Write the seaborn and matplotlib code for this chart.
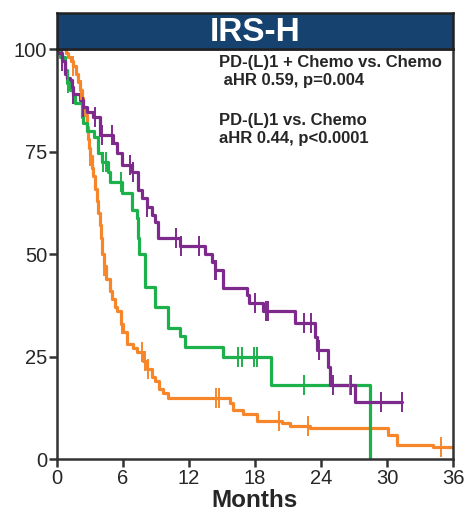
import numpy as np
import pandas as pd
import seaborn as sns
import matplotlib
matplotlib.use("Agg")
import matplotlib.pyplot as plt

# Kaplan-Meier step points (months, % surviving)
purple_t = [0, 0.1, 0.45, 0.7, 0.9, 1.2, 1.4, 1.5, 2.1, 2.4, 2.7, 3.3, 3.9, 5.1, 5.45, 5.9, 6.8,
            7.4, 7.7, 8.2, 8.6, 8.9, 9.2, 11.2, 13.5, 14.1, 14.4, 15.1, 17.3, 17.5, 18.7, 21.6,
            23.5, 23.6, 24.6, 24.8, 27.1, 31.4]
purple_s = [100, 99, 97, 94, 93, 92.4, 90.7, 89, 87.5, 86, 84.6, 83.4, 79, 77, 74.6, 71.7, 70,
            65.6, 63.7, 61.5, 59.5, 57.8, 54, 52, 50, 48, 46, 41.7, 40, 38, 36, 33.2,
            29.8, 26.6, 22.4, 18, 13.9, 13.9]
purple_cens = [0.5, 1.5, 2.4, 3.5, 4.1, 5.0, 6.6, 6.9, 8.2, 10.8, 11.3, 12.9, 14.4, 14.5,
               18.0, 19.0, 19.2, 22.5, 23.1, 23.8, 25.1, 26.7, 29.5, 31.4]

green_t = [0, 0.3, 0.7, 0.9, 1.2, 1.45, 1.6, 2.3, 2.4, 2.7, 3.4, 3.7, 4.1, 4.6, 4.8, 5.9, 6.8,
           7.3, 7.4, 7.5, 8.0, 8.9, 10.1, 11.2, 11.6, 15.1, 19.5, 28.5, 28.5]
green_s = [100, 98, 95, 91.7, 90, 88.8, 86.8, 83.4, 82, 80, 78.5, 74.6, 72.5, 70, 67.6, 65,
           60.7, 58.8, 54, 50, 42, 37, 32, 30, 27.3, 25, 18, 0, 0]
green_cens = [1.0, 4.2, 4.5, 5.8, 7.45, 16.5, 16.8, 17.9, 18.2, 22.5, 26.6]

orange_t = [0, 0.8, 1.0, 1.3, 1.5, 1.7, 1.9, 2.1, 2.3, 2.4, 2.5, 2.7, 2.8, 2.9, 3.0, 3.2, 3.3,
            3.5, 3.6, 3.7, 3.9, 4.0, 4.1, 4.3, 4.5, 4.8, 5.0, 5.3, 5.5, 5.8, 6.0, 6.4, 6.9,
            7.3, 7.8, 8.2, 8.6, 8.9, 9.3, 9.6, 10.1, 15.7, 16.0, 16.9, 18.2, 20.5, 21.2, 23.0,
            30.1, 30.9, 34.2, 36]
orange_s = [100, 99, 98, 97, 96, 94, 92, 90, 88, 86, 84, 81, 78, 76, 74, 71, 69,
            66, 63, 60, 57, 54, 50, 47, 44, 41, 39, 37, 36, 33, 31, 28, 27,
            26, 24, 22, 20, 19, 17, 16, 15, 13.7, 12, 11, 9.3, 8.8, 8, 7.5,
            5.8, 3.4, 3, 3]
orange_cens = [1.5, 2.2, 3.0, 4.3, 5.9, 7.7, 8.0, 8.3, 14.5, 14.7, 20.2, 22.8, 34.9]

arms = ["PD-(L)1 + Chemo", "PD-(L)1", "Chemo"]
colors = {"PD-(L)1 + Chemo": "#7d2a8c", "PD-(L)1": "#1db14b", "Chemo": "#f7862b"}

curves = pd.concat([
    pd.DataFrame({"t": purple_t, "s": purple_s, "arm": arms[0]}),
    pd.DataFrame({"t": green_t, "s": green_s, "arm": arms[1]}),
    pd.DataFrame({"t": orange_t, "s": orange_s, "arm": arms[2]}),
])

# censor ticks sit on the curve at their time
def on_curve(cens, t, s):
    idx = np.searchsorted(t, cens, side="right") - 1
    return [s[i] for i in idx]

marks = pd.concat([
    pd.DataFrame({"t": purple_cens, "s": on_curve(purple_cens, purple_t, purple_s), "arm": arms[0]}),
    pd.DataFrame({"t": green_cens, "s": on_curve(green_cens, green_t, green_s), "arm": arms[1]}),
    pd.DataFrame({"t": orange_cens, "s": on_curve(orange_cens, orange_t, orange_s), "arm": arms[2]}),
])

sns.set_style("white")
plt.rcParams['font.family'] = ['Liberation Sans', 'DejaVu Sans']

fig = plt.figure(figsize=(4.67, 5.12), dpi=100)
ax = fig.add_axes([0.122, 0.1035, 0.848, 0.8005])

# draw orange first so purple/green sit on top
for arm in ["Chemo", "PD-(L)1", "PD-(L)1 + Chemo"]:
    sns.lineplot(data=curves[curves.arm == arm], x="t", y="s", color=colors[arm],
                 drawstyle="steps-post", estimator=None, sort=False, linewidth=2.3, ax=ax)
    sns.scatterplot(data=marks[marks.arm == arm], x="t", y="s", color=colors[arm],
                    marker="|", s=190, linewidth=1.4, ax=ax, zorder=3)

ax.set_xlim(0, 36)
ax.set_ylim(0, 100)
ax.set_xticks([0, 6, 12, 18, 24, 30, 36])
ax.set_yticks([0, 25, 50, 75, 100])
ax.tick_params(direction="out", length=6, width=1.8, color="#333333", labelsize=14.5,
               left=True, bottom=True, pad=1)
for sp in ax.spines.values():
    sp.set_color("#333333")
    sp.set_linewidth(1.8)
ax.set_xlabel("Months", fontsize=17.5, fontweight="bold", labelpad=1)
ax.set_ylabel("")

ax.text(0.409, 0.968, "PD-(L)1 + Chemo vs. Chemo", transform=ax.transAxes,
        fontsize=12, fontweight="bold", va="center")
ax.text(0.409, 0.924, " aHR 0.59, p=0.004", transform=ax.transAxes,
        fontsize=12, fontweight="bold", va="center")
ax.text(0.409, 0.827, "PD-(L)1 vs. Chemo", transform=ax.transAxes,
        fontsize=12, fontweight="bold", va="center")
ax.text(0.409, 0.783, "aHR 0.44, p<0.0001", transform=ax.transAxes,
        fontsize=12, fontweight="bold", va="center")

# title banner
tax = fig.add_axes([0.122, 0.904, 0.848, 0.071])
tax.set_facecolor("#15426f")
tax.set_xticks([])
tax.set_yticks([])
for sp in tax.spines.values():
    sp.set_color("#222222")
    sp.set_linewidth(1.8)
tax.text(0.5, 0.45, "IRS-H", color="white", fontsize=24, fontweight="bold",
         ha="center", va="center", transform=tax.transAxes)

fig.savefig("out.png", dpi=100)
